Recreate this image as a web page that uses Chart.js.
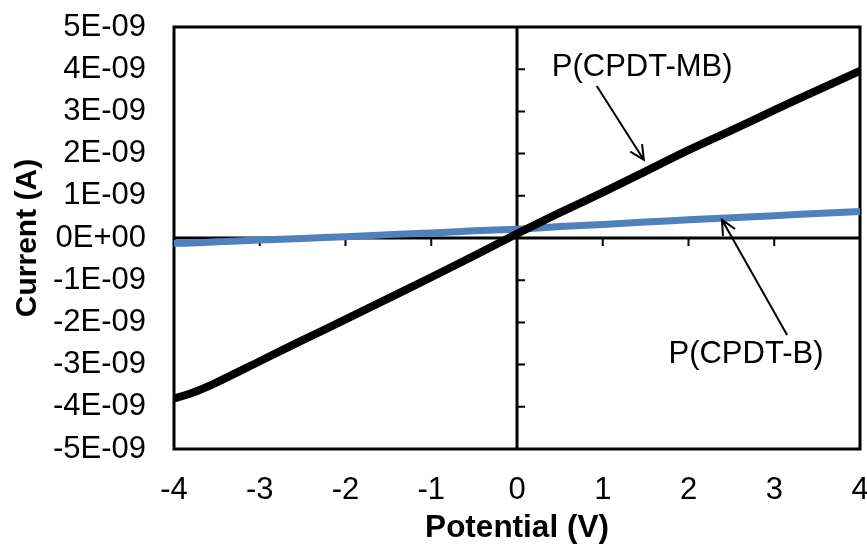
<!DOCTYPE html>
<html>
<head>
<meta charset="utf-8">
<script src="https://cdn.jsdelivr.net/npm/chart.js@4.4.1/dist/chart.umd.min.js"></script>
<style>
  html, body { margin: 0; padding: 0; background: #fff; }
  #wrap { width: 867px; height: 549px; }
</style>
</head>
<body>
<div id="wrap"><canvas id="ivChart"></canvas></div>
<script>
// Data (potential in V, current in A)
var potential = [-4, -3.8, -3.5, -3, -2.5, -2, -1.5, -1, -0.5, 0, 0.5, 1, 1.5, 2, 2.5, 3, 3.5, 4];
var currentMB = [-3.80e-9, -3.68e-9, -3.42e-9, -2.92e-9, -2.42e-9, -1.93e-9, -1.43e-9, -0.93e-9, -0.42e-9, 0.10e-9,
                 0.60e-9, 1.08e-9, 1.58e-9, 2.08e-9, 2.55e-9, 3.03e-9, 3.50e-9, 3.96e-9];
var currentB  = [-0.13e-9, -0.12e-9, -0.09e-9, -0.05e-9, -0.01e-9, 0.03e-9, 0.08e-9, 0.12e-9, 0.17e-9, 0.21e-9,
                 0.27e-9, 0.32e-9, 0.38e-9, 0.43e-9, 0.48e-9, 0.53e-9, 0.58e-9, 0.63e-9];
var seriesNames = ["P(CPDT-MB)", "P(CPDT-B)"];
var xTicks = [-4, -3, -2, -1, 0, 1, 2, 3, 4];

function toPoints(ys) {
    return potential.map(function (x, i) { return { x: x, y: ys[i] }; });
}

function sciLabel(v) {
    var m = Math.round(v * 1e9);
    if (m === 0) return "0E+00";
    return m + "E-09";
}

// labels with arrows, given in data units
var callouts = [
    { text: seriesNames[0], tx: 1.46, ty: 4.05e-9, ax0: 0.93, ay0: 3.6e-9, ax1: 1.48, ay1: 1.85e-9 },
    { text: seriesNames[1], tx: 2.67, ty: -2.77e-9, ax0: 3.15, ay0: -2.3e-9, ax1: 2.39, ay1: 0.43e-9 }
];

var frameAndAxes = {
    id: 'frameAndAxes',
    beforeDatasetsDraw: function (chart) {
        var c = chart.ctx, a = chart.chartArea;
        var xs = chart.scales.x, ys = chart.scales.y;
        var x0 = xs.getPixelForValue(0), y0 = ys.getPixelForValue(0);
        c.save();
        c.strokeStyle = '#000';
        c.lineWidth = 3;
        c.strokeRect(a.left, a.top, a.right - a.left, a.bottom - a.top);
        c.beginPath();
        c.moveTo(x0, a.top); c.lineTo(x0, a.bottom);
        c.moveTo(a.left, y0); c.lineTo(a.right, y0);
        c.stroke();
        c.lineWidth = 2;
        c.beginPath();
        for (var v = -5; v <= 5; v++) {
            var py = ys.getPixelForValue(v * 1e-9);
            c.moveTo(x0, py); c.lineTo(x0 + 8, py);
        }
        xTicks.forEach(function (t) {
            var px = xs.getPixelForValue(t);
            c.moveTo(px, y0); c.lineTo(px, y0 + 8);
        });
        c.stroke();
        c.restore();
    },
    afterDatasetsDraw: function (chart) {
        var c = chart.ctx;
        var xs = chart.scales.x, ys = chart.scales.y;
        c.save();
        c.fillStyle = '#000';
        c.strokeStyle = '#000';
        c.lineWidth = 2;
        c.font = '31px "Liberation Sans", Arial, sans-serif';
        c.textAlign = 'center';
        c.textBaseline = 'middle';
        callouts.forEach(function (k) {
            c.fillText(k.text, xs.getPixelForValue(k.tx), ys.getPixelForValue(k.ty));
            var x0 = xs.getPixelForValue(k.ax0), y0 = ys.getPixelForValue(k.ay0);
            var x1 = xs.getPixelForValue(k.ax1), y1 = ys.getPixelForValue(k.ay1);
            var ang = Math.atan2(y1 - y0, x1 - x0);
            c.beginPath();
            c.moveTo(x0, y0); c.lineTo(x1, y1);
            c.moveTo(x1 - 16 * Math.cos(ang - 0.45), y1 - 16 * Math.sin(ang - 0.45));
            c.lineTo(x1, y1);
            c.lineTo(x1 - 16 * Math.cos(ang + 0.45), y1 - 16 * Math.sin(ang + 0.45));
            c.stroke();
        });
        c.restore();
    }
};

var ctx = document.getElementById('ivChart');

var chartData = {
    datasets: [{
        label: seriesNames[0],
        data: toPoints(currentMB),
        showLine: true,
        borderColor: '#000000',
        backgroundColor: '#000000',
        borderWidth: 8,
        pointRadius: 0,
        borderCapStyle: 'round',
        borderJoinStyle: 'round',
        tension: 0.3
    }, {
        label: seriesNames[1],
        data: toPoints(currentB),
        showLine: true,
        borderColor: '#4F81BD',
        backgroundColor: '#4F81BD',
        borderWidth: 7,
        pointRadius: 0,
        tension: 0.3
    }]
};

var chartOptions = {
    responsive: true,
    maintainAspectRatio: false,
    animation: false,
    layout: { padding: { top: 27, right: 7, left: 0, bottom: 0 } },
    plugins: { legend: { display: false }, tooltip: { enabled: false } },
    scales: {
        x: {
            type: 'linear',
            min: -4, max: 4,
            grid: { display: false, drawTicks: false },
            border: { display: false },
            ticks: {
                stepSize: 1,
                padding: 23,
                color: '#000',
                font: { family: '"Liberation Sans", Arial, sans-serif', size: 31 },
                maxRotation: 0
            },
            title: {
                display: true,
                text: 'Potential (V)',
                color: '#000',
                font: { family: '"Liberation Sans", Arial, sans-serif', size: 31.5, weight: 'bold' },
                padding: { top: 0, bottom: 2 }
            },
            afterFit: function (s) { s.height = 100; s.paddingLeft = 0; s.paddingRight = 0; }
        },
        y: {
            type: 'linear',
            min: -5e-9, max: 5e-9,
            grid: { display: false, drawTicks: false },
            border: { display: false },
            ticks: {
                stepSize: 1e-9,
                padding: 28,
                color: '#000',
                font: { family: '"Liberation Sans", Arial, sans-serif', size: 31 },
                callback: function (v) { return sciLabel(v); }
            },
            title: {
                display: true,
                text: 'Current (A)',
                color: '#000',
                font: { family: '"Liberation Sans", Arial, sans-serif', size: 30, weight: 'bold' },
                padding: { top: 10, bottom: 0 }
            },
            afterFit: function (s) { s.width = 174; s.paddingTop = 0; s.paddingBottom = 0; }
        }
    }
};

var ivChart = new Chart(ctx, {
    type: 'scatter',
    data: chartData,
    options: chartOptions,
    plugins: [frameAndAxes]
});
</script>
</body>
</html>
